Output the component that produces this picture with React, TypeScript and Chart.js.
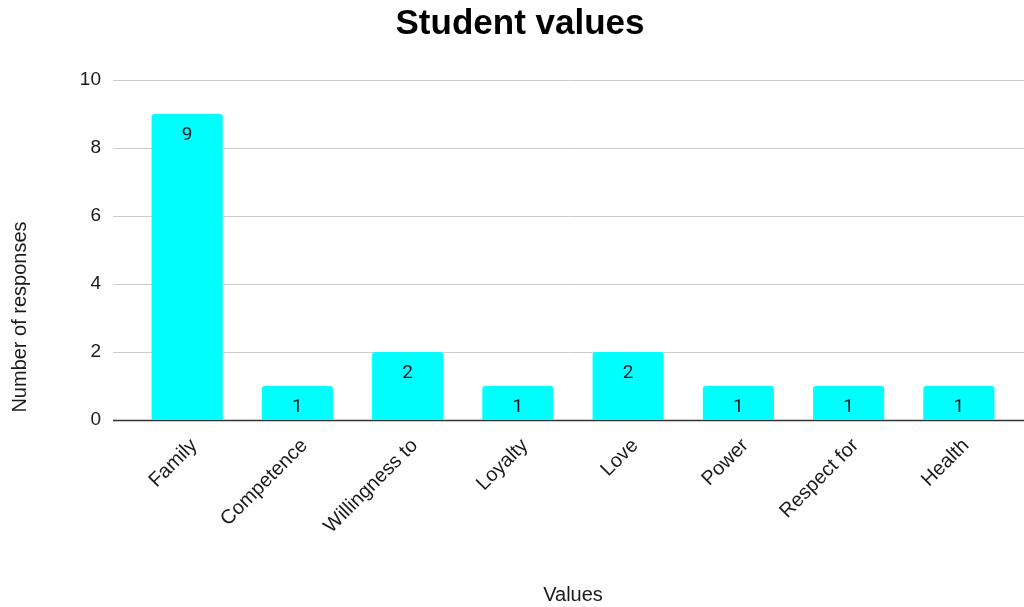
import React, { useEffect, useRef } from "react";
import { Chart, registerables } from "chart.js";

Chart.register(...registerables);

const chartTitle = "Student values";
const xAxisTitle = "Values";
const yAxisTitle = "Number of responses";
const categories = ["Family", "Competence", "Willingness to", "Loyalty", "Love", "Power", "Respect for", "Health"];
const responses = [9, 1, 2, 1, 2, 1, 1, 1];
const yTicks = [0, 2, 4, 6, 8, 10];

const FONT = "'Liberation Sans', Arial, sans-serif";
const TEXT = "#1a1a1a";

const gridPlugin = {
  id: "fullGrid",
  beforeDatasetsDraw(chart: any) {
    const ctx = chart.ctx;
    const y = chart.scales.y;
    ctx.save();
    for (const v of yTicks) {
      const py = Math.round(y.getPixelForValue(v)) + 0.5;
      ctx.beginPath();
      ctx.strokeStyle = v === 0 ? "#333333" : "#cccccc";
      ctx.lineWidth = v === 0 ? 1.5 : 1;
      ctx.moveTo(113, py);
      ctx.lineTo(chart.width, py);
      ctx.stroke();
    }
    ctx.restore();
  },
  afterDatasetsDraw(chart: any) {
    const ctx = chart.ctx;
    const meta = chart.getDatasetMeta(0);
    ctx.save();
    ctx.fillStyle = TEXT;
    ctx.font = "19px Roboto, 'Liberation Sans', sans-serif";
    ctx.textAlign = "center";
    ctx.textBaseline = "middle";
    meta.data.forEach((bar: any, i: number) => {
      ctx.fillText(String(responses[i]), bar.x, bar.y + 21);
    });
    // chart title
    ctx.fillStyle = "#000000";
    ctx.font = "bold 35px " + FONT;
    ctx.fillText(chartTitle, 520, 24);
    // y axis title
    ctx.fillStyle = TEXT;
    ctx.font = "20px " + FONT;
    ctx.translate(20, 317);
    ctx.rotate(-Math.PI / 2);
    ctx.fillText(yAxisTitle, 0, 0);
    ctx.restore();
  },
};

export default function App() {
  const ref = useRef<HTMLCanvasElement>(null);
  useEffect(() => {
    if (!ref.current) return;
    const chart = new Chart(ref.current, {
      type: "bar",
      data: {
        labels: categories,
        datasets: [
          {
            data: responses,
            backgroundColor: "#00ffff",
            borderRadius: 3,
            borderSkipped: "start",
            barPercentage: 0.645,
            categoryPercentage: 1,
          },
        ],
      },
      options: {
        responsive: false,
        animation: false,
        layout: { padding: { right: 10, left: 0, top: 80, bottom: 0 } },
        plugins: {
          legend: { display: false },
          tooltip: { enabled: false },
          title: { display: false },
        },
        scales: {
          x: {
            grid: { display: false, drawTicks: false },
            border: { display: false },
            ticks: {
              color: TEXT,
              font: { family: FONT, size: 20 },
              maxRotation: 45,
              minRotation: 45,
              padding: 14,
              labelOffset: 7,
              autoSkip: false,
            },
            title: {
              display: true,
              text: xAxisTitle,
              color: TEXT,
              font: { family: FONT, size: 20 },
              padding: { top: 0, bottom: 0 },
            },
            afterFit(scale: any) {
              scale.height = 187;
            },
          },
          y: {
            min: 0,
            max: 10,
            grid: { display: false, drawTicks: false },
            border: { display: false },
            ticks: {
              stepSize: 2,
              color: TEXT,
              font: { family: FONT, size: 19 },
              padding: 31,
            },
            title: { display: false },
            afterFit(scale: any) {
              scale.width = 132;
            },
          },
        },
      },
      plugins: [gridPlugin],
    } as any);
    return () => chart.destroy();
  }, []);
  return (
    <div style={{ position: "fixed", left: 0, top: 0, width: 1024, height: 607, background: "#fff" }}>
      <canvas ref={ref} width={1024} height={607} />
    </div>
  );
}
